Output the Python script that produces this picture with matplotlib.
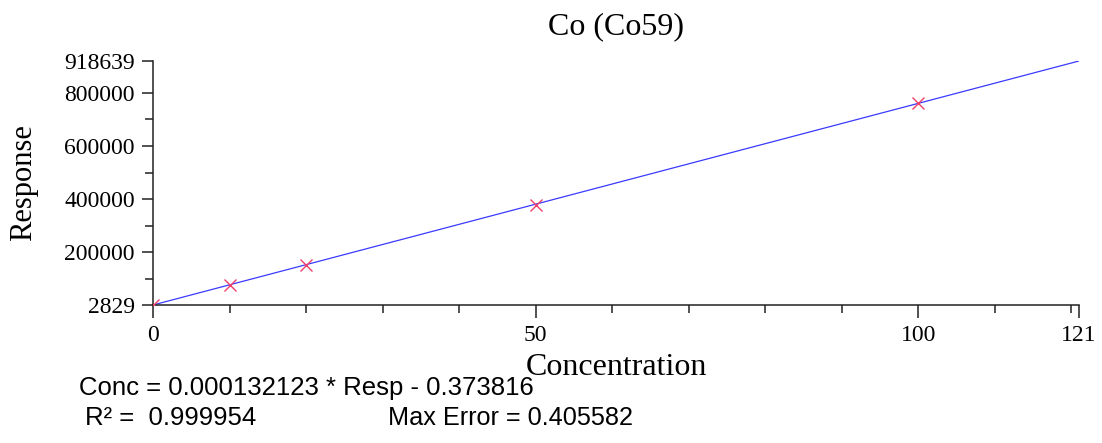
import matplotlib
matplotlib.use('Agg')
import matplotlib.pyplot as plt
import numpy as np

# Points d'étalonnage
conc = [0, 10, 20, 50, 100]
resp = [2829, 77000, 153500, 380000, 760000]

# Coefficients de la droite affichée
slope = 0.000132123
intercept = -0.373816
r2 = 0.999954
max_error = 0.405582

x_max = 121
y_min = 2829
y_max = 918639

x_major = [0, 50, 100, 121]
x_minor = [10, 20, 30, 40, 60, 70, 80, 90, 110, 120]
y_major = [2829, 200000, 400000, 600000, 800000, 918639]
y_minor = [100000, 300000, 500000, 700000]

serif = 'Liberation Serif'
sans = 'Liberation Sans'

fig = plt.figure(figsize=(11.02, 4.43), dpi=100)
ax = fig.add_axes([153 / 1102, 1 - 305 / 443, (1079 - 153) / 1102, (305 - 61) / 443])

# droite d'étalonnage
x_line = np.array([0, x_max])
y_line = (x_line - intercept) / slope
ax.plot(x_line, y_line, color='#3a3aff', lw=0.9, zorder=2)
ax.plot(conc, resp, 'x', color='#f0406a', ms=8, mew=1.0, zorder=3)

ax.set_xlim(0, x_max)
ax.set_ylim(y_min, y_max)

ax.set_xticks(x_major)
ax.set_xticklabels([str(v) for v in x_major], fontfamily=serif, fontsize=17)
ax.set_xticks(x_minor, minor=True)
ax.set_yticks(y_major)
ax.set_yticklabels([str(v) for v in y_major], fontfamily=serif, fontsize=17)
ax.set_yticks(y_minor, minor=True)

ax.tick_params(axis='x', which='major', length=9.5, width=1.1, color='#222222', pad=5)
ax.tick_params(axis='y', which='major', length=8, width=1.1, color='#222222', pad=5)
ax.tick_params(which='minor', length=5.5, width=1.1, color='#222222')

for s in ['top', 'right']:
    ax.spines[s].set_visible(False)
for s in ['left', 'bottom']:
    ax.spines[s].set_linewidth(1.1)
    ax.spines[s].set_color('#222222')

ax.set_title('Co (Co59)', fontfamily=serif, fontsize=23, pad=19)
ax.set_xlabel('Concentration', fontfamily=serif, fontsize=23, labelpad=5)
ax.set_ylabel('Response', fontfamily=serif, fontsize=22, labelpad=19)

fig.text(79 / 1102, 1 - 395 / 443, 'Conc = %.9f * Resp - %.6f' % (slope, -intercept),
         fontfamily=sans, fontsize=18.5, va='baseline')
fig.text(85 / 1102, 1 - 425 / 443, 'R² =  %.6f' % r2,
         fontfamily=sans, fontsize=18.5, va='baseline')
fig.text(388 / 1102, 1 - 425 / 443, 'Max Error = %.6f' % max_error,
         fontfamily=sans, fontsize=18.2, va='baseline')

fig.savefig('out.png', dpi=100)
